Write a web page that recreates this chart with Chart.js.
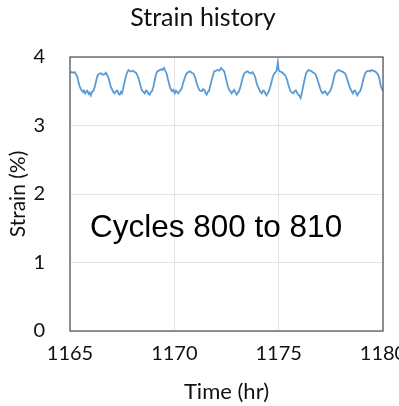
<!DOCTYPE html>
<html>
<head>
<meta charset="utf-8">
<script src="https://cdn.jsdelivr.net/npm/chart.js@4/dist/chart.umd.min.js"></script>
<style>
html,body{margin:0;padding:0;background:#fff;overflow:hidden;width:399px;height:406px;}
#wrap{position:absolute;left:0;top:0;width:420px;height:406px;}
</style>
</head>
<body>
<div id="wrap"><canvas id="c" width="420" height="406"></canvas></div>
<script>
const chartTitle = "Strain history";
const annotationText = "Cycles 800 to 810";
const xTitle = "Time (hr)";
const yTitle = "Strain (%)";
const xTicks = [1165, 1170, 1175, 1180];
const yTicks = [0, 1, 2, 3, 4];

const times = [
1165.00,1165.08,1165.15,1165.22,1165.30,1165.35,1165.41,1165.46,1165.54,1165.62,
1165.67,1165.73,1165.78,1165.83,1165.89,1165.94,1166.00,1166.05,1166.13,1166.20,
1166.26,1166.31,1166.37,1166.44,1166.50,1166.58,1166.66,1166.72,1166.79,1166.85,
1166.90,1166.96,1167.01,1167.07,1167.14,1167.20,1167.27,1167.33,1167.38,1167.44,
1167.49,1167.54,1167.59,1167.65,1167.70,1167.76,1167.81,1167.88,1167.94,1168.02,
1168.10,1168.16,1168.22,1168.28,1168.34,1168.40,1168.45,1168.52,1168.58,1168.64,
1168.70,1168.76,1168.82,1168.88,1168.93,1169.00,1169.06,1169.12,1169.18,1169.26,
1169.35,1169.42,1169.50,1169.56,1169.63,1169.68,1169.74,1169.80,1169.89,1169.95,
1170.02,1170.08,1170.13,1170.19,1170.26,1170.35,1170.42,1170.48,1170.54,1170.59,
1170.67,1170.75,1170.83,1170.91,1170.97,1171.02,1171.08,1171.15,1171.22,1171.31,
1171.37,1171.44,1171.50,1171.55,1171.60,1171.66,1171.72,1171.79,1171.85,1171.91,
1172.00,1172.08,1172.16,1172.24,1172.30,1172.39,1172.45,1172.51,1172.57,1172.63,
1172.69,1172.75,1172.81,1172.87,1172.93,1172.99,1173.05,1173.10,1173.17,1173.23,
1173.29,1173.35,1173.43,1173.51,1173.59,1173.67,1173.75,1173.83,1173.89,1173.94,
1174.00,1174.06,1174.12,1174.19,1174.25,1174.31,1174.37,1174.42,1174.48,1174.53,
1174.60,1174.66,1174.72,1174.79,1174.85,1174.90,1174.96,1175.00,1175.06,1175.14,
1175.22,1175.29,1175.35,1175.41,1175.46,1175.52,1175.57,1175.63,1175.70,1175.76,
1175.83,1175.89,1175.94,1176.00,1176.05,1176.11,1176.18,1176.25,1176.31,1176.37,
1176.42,1176.50,1176.58,1176.66,1176.74,1176.80,1176.85,1176.92,1176.98,1177.04,
1177.11,1177.17,1177.22,1177.28,1177.33,1177.40,1177.46,1177.53,1177.59,1177.65,
1177.70,1177.78,1177.86,1177.94,1178.02,1178.10,1178.18,1178.24,1178.30,1178.36,
1178.42,1178.48,1178.55,1178.60,1178.66,1178.72,1178.77,1178.84,1178.90,1178.97,
1179.03,1179.09,1179.14,1179.22,1179.30,1179.38,1179.45,1179.53,1179.61,1179.69,
1179.77,1179.83,1179.89,1179.94,1180.00
];

const strain = [
3.77,3.78,3.77,3.78,3.74,3.71,3.63,3.57,3.52,3.49,
3.51,3.47,3.50,3.51,3.46,3.48,3.44,3.49,3.51,3.58,
3.66,3.72,3.75,3.76,3.76,3.74,3.75,3.77,3.73,3.69,
3.63,3.56,3.53,3.49,3.47,3.50,3.51,3.46,3.45,3.49,
3.47,3.53,3.60,3.68,3.74,3.79,3.81,3.79,3.79,3.80,
3.78,3.77,3.74,3.69,3.63,3.56,3.51,3.49,3.47,3.51,
3.50,3.46,3.45,3.49,3.50,3.57,3.66,3.74,3.79,3.80,
3.82,3.81,3.84,3.80,3.76,3.69,3.62,3.55,3.50,3.52,
3.47,3.51,3.49,3.47,3.50,3.54,3.62,3.68,3.73,3.76,
3.78,3.79,3.77,3.76,3.72,3.68,3.61,3.55,3.51,3.50,
3.53,3.52,3.47,3.45,3.49,3.50,3.58,3.66,3.73,3.79,
3.80,3.81,3.80,3.84,3.82,3.79,3.72,3.64,3.57,3.52,
3.50,3.47,3.50,3.52,3.48,3.45,3.48,3.50,3.57,3.64,
3.71,3.76,3.78,3.79,3.77,3.76,3.78,3.74,3.69,3.62,
3.57,3.53,3.49,3.47,3.51,3.50,3.46,3.44,3.48,3.50,
3.57,3.64,3.71,3.76,3.78,3.80,3.92,3.81,3.79,3.78,
3.76,3.74,3.71,3.66,3.60,3.54,3.50,3.48,3.47,3.50,
3.51,3.47,3.45,3.43,3.40,3.47,3.58,3.68,3.76,3.79,
3.81,3.80,3.79,3.77,3.76,3.72,3.68,3.61,3.55,3.50,
3.47,3.49,3.50,3.47,3.45,3.48,3.50,3.55,3.62,3.70,
3.76,3.79,3.81,3.80,3.79,3.78,3.76,3.72,3.66,3.60,
3.55,3.51,3.47,3.50,3.51,3.47,3.44,3.48,3.50,3.56,
3.64,3.71,3.76,3.79,3.80,3.79,3.81,3.80,3.79,3.77,
3.74,3.68,3.58,3.54,3.50
];

const points = times.map((t, i) => ({ x: t, y: strain[i] }));

const textPlugin = {
  id: 'texts',
  afterDraw(chart) {
    const ctx = chart.ctx;
    const a = chart.chartArea;
    ctx.save();
    ctx.strokeStyle = '#5a5a5a';
    ctx.lineWidth = 1.3;
    ctx.strokeRect(a.left, a.top, a.right - a.left, a.bottom - a.top);
    ctx.fillStyle = '#111';
    ctx.font = '25px Lato';
    ctx.textAlign = 'center';
    ctx.textBaseline = 'middle';
    ctx.fillText(chartTitle, 203, 18);
    ctx.font = '31.5px "Liberation Sans"';
    ctx.textAlign = 'left';
    ctx.textBaseline = 'alphabetic';
    ctx.fillStyle = '#000';
    ctx.fillText(annotationText, a.left + 20, a.top + 180);
    ctx.restore();
  }
};

new Chart(document.getElementById('c'), {
  type: 'scatter',
  data: {
    datasets: [{
      data: points,
      showLine: true,
      borderColor: '#5b9bd5',
      backgroundColor: '#5b9bd5',
      borderWidth: 1.8,
      pointRadius: 0,
      tension: 0
    }]
  },
  options: {
    responsive: false,
    animation: false,
    layout: { padding: { top: 57, right: 37, left: 0, bottom: 0 } },
    plugins: { legend: { display: false }, tooltip: { enabled: false } },
    scales: {
      x: {
        type: 'linear',
        min: xTicks[0],
        max: xTicks[xTicks.length - 1],
        afterBuildTicks: s => { s.ticks = xTicks.map(v => ({ value: v })); },
        afterFit: s => { s.height = 75; },
        grid: { color: '#e3e3e3', drawTicks: false },
        border: { display: false },
        ticks: { color: '#111', font: { family: 'Lato', size: 20 }, padding: 11, maxRotation: 0, callback: v => String(v) },
        title: { display: true, text: xTitle, color: '#111', font: { family: 'Lato', size: 22 }, padding: { top: 0, bottom: 1 } }
      },
      y: {
        min: yTicks[0],
        max: yTicks[yTicks.length - 1],
        afterBuildTicks: s => { s.ticks = yTicks.map(v => ({ value: v })); },
        afterFit: s => { s.width = 70; },
        grid: { color: '#e3e3e3', drawTicks: false },
        border: { display: false },
        ticks: { color: '#111', font: { family: 'Lato', size: 20 }, padding: 25, callback: v => String(v) },
        title: { display: true, text: yTitle, color: '#111', font: { family: 'Lato', size: 21 }, padding: { top: 6, bottom: 0 } }
      }
    }
  },
  plugins: [textPlugin]
});
</script>
</body>
</html>
